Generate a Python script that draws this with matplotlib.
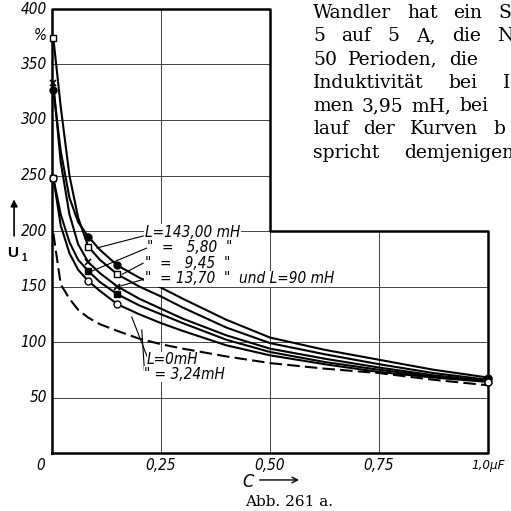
import numpy as np
import matplotlib.pyplot as plt
from matplotlib import font_manager

# capacitance in uF, U1 in %
c_line = [0.003, 0.02, 0.04, 0.06, 0.083, 0.11, 0.15, 0.2, 0.25, 0.3, 0.4, 0.5, 0.625, 0.75, 0.875, 1.0]
u_circ = [327, 272, 230, 208, 195, 183, 169, 158, 149, 139, 120, 104, 93, 84, 75, 68]
u_sq = [374, 312, 250, 212, 186, 174, 161, 150, 141, 131, 113, 99, 89, 80, 72, 66]
u_x = [333, 262, 215, 188, 172, 162, 150, 139, 130, 121, 106, 94, 85, 77, 70, 65]
u_fsq = [248, 215, 190, 174, 164, 154, 143, 133, 125, 117, 102, 91, 82, 75, 69, 65]
u_ocirc = [248, 205, 180, 165, 155, 146, 134, 125, 117, 110, 97, 88, 80, 73, 68, 64]
u_dash = [198, 152, 139, 129, 122, 116, 110, 103, 98, 94, 87, 81, 76, 72, 66, 61]

# measured points
c_pts = [0.003, 0.083, 0.15, 1.0]
p_circ = [327, 195, 169, 68]
p_sq = [374, 186, 161, 66]
p_x = [333, 172, 150, 65]
p_fsq = [248, 164, 143, 65]
p_ocirc = [248, 155, 134, 64]

yticks = [0, 50, 100, 150, 200, 250, 300, 350, 400]
xticks = [0, 0.25, 0.5, 0.75]
xlabels = ["0", "0,25", "0,50", "0,75"]

# narrow italic face for the lettering, if one is around
narrow = None
for f in font_manager.fontManager.ttflist:
    n = f.fname.lower()
    if ('narrow' in n or 'condensed' in n) and ('italic' in n or 'oblique' in n) and 'bold' not in n:
        narrow = f.fname
        break
if narrow:
    def lp(size):
        return font_manager.FontProperties(fname=narrow, size=size)
else:
    def lp(size):
        return font_manager.FontProperties(family='Liberation Sans', style='italic', size=size*0.85)

ser = ['DejaVu Serif']

fig = plt.figure(figsize=(5.11, 5.11), dpi=100)
ax = fig.add_axes([52/511, 1-453/511, 436/511, 444/511])
ax.set_xlim(0, 1)
ax.set_ylim(0, 400)
ax.axis('off')

# grid
g = dict(color='#444', lw=0.7, zorder=1)
for y in [50, 100, 150]:
    ax.plot([0, 1], [y, y], **g)
for y in [200, 250, 300, 350]:
    ax.plot([0, 0.5], [y, y], **g)
ax.plot([0.25, 0.25], [0, 400], **g)
ax.plot([0.5, 0.5], [0, 200], **g)
ax.plot([0.75, 0.75], [0, 200], **g)

# stepped frame
ax.plot([0, 0, 0.5, 0.5, 1, 1, 0], [0, 400, 400, 200, 200, 0, 0],
        color='black', lw=1.8, zorder=3, clip_on=False)

lw = 1.5
for u in [u_circ, u_sq, u_x, u_fsq, u_ocirc]:
    ax.plot(c_line, u, color='black', lw=lw, zorder=4, clip_on=False)
ax.plot(c_line, u_dash, color='black', lw=lw, dashes=(6, 2.5), zorder=4)

mk = dict(color='black', ls='none', zorder=5, clip_on=False)
ax.plot(c_pts, p_circ, marker='o', ms=5, **mk)
ax.plot(c_pts, p_sq, marker='s', ms=4.5, mfc='white', mew=1, **mk)
ax.plot(c_pts, p_x, marker='x', ms=5, mew=1.2, **mk)
ax.plot(c_pts, p_fsq, marker='s', ms=5, **mk)
ax.plot(c_pts, p_ocirc, marker='o', ms=5, mfc='white', mew=1, **mk)

# tick labels
for y in yticks[1:]:
    ax.text(-0.012, y, str(y), ha='right', va='center', fontproperties=lp(11))
ax.text(-0.012, 376, "%", ha='right', va='center', fontproperties=lp(11))
for x, t in zip(xticks, xlabels):
    xx = -0.025 if x == 0 else x
    ax.text(xx, -11, t, ha='center', va='center', fontproperties=lp(11))
ax.text(1.0, -11, "1,0µF", ha='center', va='center', fontproperties=lp(9.5),
        clip_on=False)

# curve labels with leader lines
bb = dict(facecolor='white', edgecolor='none', pad=0.3)
labels = [
    ("L=143,00 mH", 0.213, 199, (0.209, 195.5), (0.103, 184.7)),
    ("\"  =   5,80  \"", 0.218, 184.7, (0.218, 184.7), (0.092, 164)),
    ("\"  =   9,45  \"", 0.213, 171, (0.209, 171), (0.161, 161)),
    ("\"  = 13,70  \"  und L=90 mH", 0.213, 156.8, (0.213, 156.8), (0.149, 149.5)),
    ("L=0mH", 0.218, 83.8, (0.218, 87), (0.183, 122.5)),
    ("\" = 3,24mH", 0.211, 71, (0.212, 74), (0.206, 110.8)),
]
for t, x, y, p0, p1 in labels:
    ax.plot([p0[0], p1[0]], [p0[1], p1[1]], color='black', lw=0.8, zorder=6)
    ax.text(x, y, t, ha='left', va='center', fontproperties=lp(11),
            bbox=bb, zorder=7)

# axis names
ax.annotate("", xy=(-0.087, 231), xytext=(-0.087, 193),
            arrowprops=dict(arrowstyle='-|>', color='black', lw=1.2),
            annotation_clip=False)
ax.text(-0.09, 180, "U", ha='center', va='center', fontsize=11,
        fontweight='bold', family='Liberation Sans', clip_on=False)
ax.text(-0.064, 176, "1", ha='center', va='center', fontsize=7,
        fontweight='bold', family='Liberation Sans', clip_on=False)
ax.text(0.449, -26, "C", ha='center', va='center', fontproperties=lp(13))
ax.annotate("", xy=(0.573, -24.3), xytext=(0.47, -24.3),
            arrowprops=dict(arrowstyle='->', color='black', lw=1.0),
            annotation_clip=False)

# running text beside the figure, spread out like a justified column
renderer = fig.canvas.get_renderer()


def justify(words, y, x0, x_last, size=13.5, end=False):
    ts = [fig.text(0, 0, w, ha='left', va='center', family=ser, fontsize=size)
          for w in words]
    ws = [t.get_window_extent(renderer).width for t in ts]
    if end:
        x_last = x_last - ws[-1]
    gap = (x_last - x0 - sum(ws[:-1])) / (len(words) - 1)
    x = x0
    for t, w in zip(ts, ws):
        t.set_position((x/511, 1-y/511))
        x += w + gap


body = [
    (["Wandler", "hat", "ein", "S"], 498, False),
    (["5", "auf", "5", "A,", "die", "N"], 497, False),
    (["50", "Perioden,", "die"], 478, True),
    (["Induktivität", "bei", "I"], 503, False),
    (["men", "3,95", "mH,", "bei"], 488, True),
    (["lauf", "der", "Kurven", "b"], 493, False),
    (["spricht", "demjenigen"], 514, True),
]
for i, (words, xl, end) in enumerate(body):
    justify(words, 13 + 23.3*i, 313, xl, end=end)

fig.text(289/511, 1-502/511, "Abb. 261 a.", ha='center', va='center',
         family=ser, fontsize=11)

fig.savefig("out.png", dpi=100, facecolor='white')
